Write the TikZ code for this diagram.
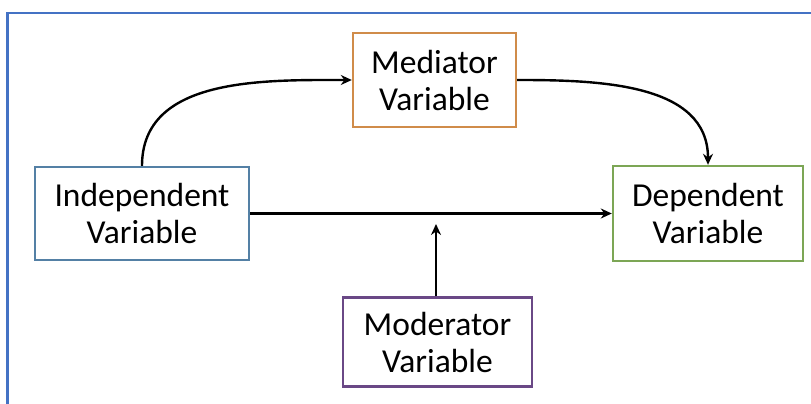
\documentclass[tikz,border=0pt]{standalone}
\usepackage{fontspec}
\setmainfont{Carlito}
\usetikzlibrary{arrows.meta}
\definecolor{framec}{RGB}{68,114,196}
\definecolor{indc}{RGB}{84,128,165}
\definecolor{medc}{RGB}{208,140,74}
\definecolor{depc}{RGB}{124,166,85}
\definecolor{modc}{RGB}{106,72,134}
\begin{document}
\begin{tikzpicture}[x=1pt,y=1pt,
  varbox/.style={draw, line width=2.4pt, fill=white, align=center, inner sep=0pt,
    font=\fontsize{33.5}{37}\selectfont},
  conn/.style={line width=2.4pt, -{Stealth[length=11pt,width=10pt]}}]
\useasboundingbox (0,0) rectangle (811,404);
\draw[framec, line width=2.2pt] (7.5,-5) -- (7.5,391) -- (820,391);
\node[varbox, draw=indc, minimum width=214pt, minimum height=93pt] (ind) at (142,190.5) {Independent\\Variable};
\node[varbox, draw=medc, minimum width=163pt, minimum height=94pt] (med) at (434.5,324) {Mediator\\Variable};
\node[varbox, draw=depc, minimum width=190pt, minimum height=95pt] (dep) at (708,190.5) {Dependent\\Variable};
\node[varbox, draw=modc, minimum width=189pt, minimum height=89pt] (mod) at (437.5,62) {Moderator\\Variable};
\coordinate (modtip) at (436,180);
\draw[conn] (ind.east) -- (dep.west);
\draw[conn] (mod.north -| modtip) -- (modtip);
\draw[conn] (ind.north) to[out=90,in=180] (med.west);
\draw[conn] (med.east) to[out=0,in=90] (dep.north);
\end{tikzpicture}
\end{document}
